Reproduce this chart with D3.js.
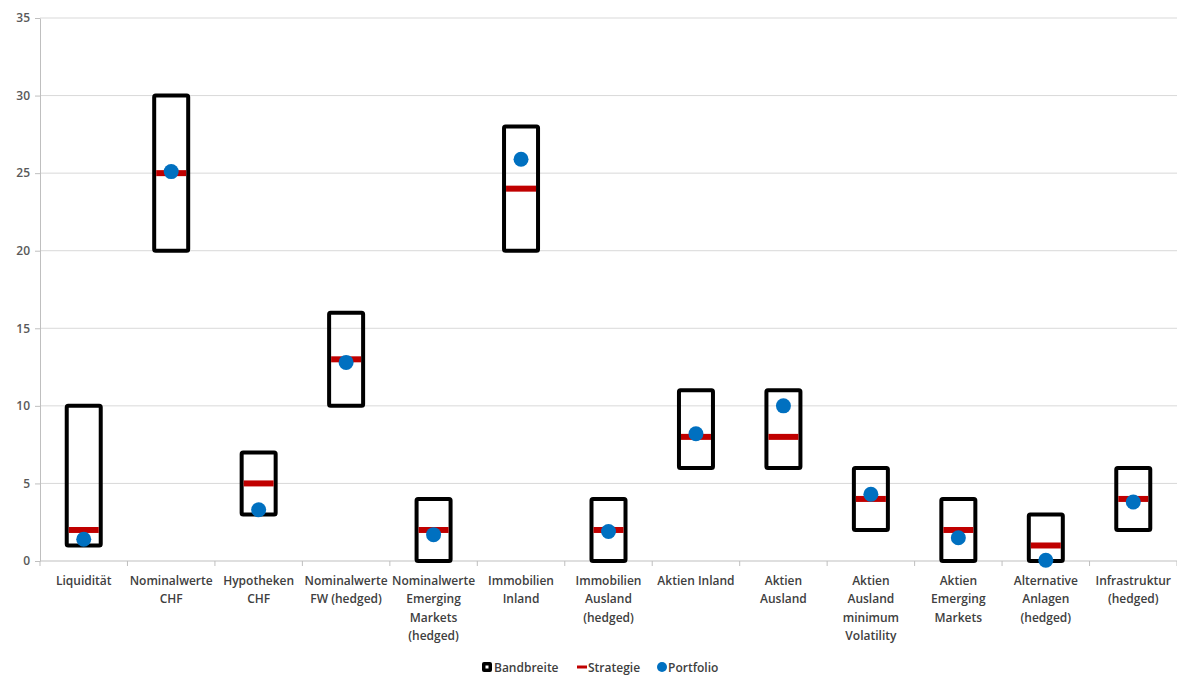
<!DOCTYPE html>
<html lang="de">
<head>
<meta charset="UTF-8">
<title>Bandbreiten</title>
<script src="https://d3js.org/d3.v7.min.js"></script>
<style>
  body { margin: 0; background: #fff; }
  svg text { font-family: "Open Sans", "Noto Sans", sans-serif; }
</style>
</head>
<body>
<div id="chart"></div>
<script>
// categories (lines split with \n)
const categories = [
  "Liquidität", "Nominalwerte\nCHF", "Hypotheken\nCHF", "Nominalwerte\nFW (hedged)",
  "Nominalwerte\nEmerging\nMarkets\n(hedged)", "Immobilien\nInland", "Immobilien\nAusland\n(hedged)",
  "Aktien Inland", "Aktien\nAusland", "Aktien\nAusland\nminimum\nVolatility",
  "Aktien\nEmerging\nMarkets", "Alternative\nAnlagen\n(hedged)", "Infrastruktur\n(hedged)"
];
const bandMin   = [1, 20, 3, 10, 0, 20, 0, 6, 6, 2, 0, 0, 2];
const bandMax   = [10, 30, 7, 16, 4, 28, 4, 11, 11, 6, 4, 3, 6];
const strategie = [2, 25, 5, 13, 2, 24, 2, 8, 8, 4, 2, 1, 4];
const portfolio = [1.4, 25.1, 3.3, 12.8, 1.7, 25.9, 1.9, 8.2, 10.0, 4.3, 1.5, 0.05, 3.8];
const yTicks = [0, 5, 10, 15, 20, 25, 30, 35];

const W = 1177, H = 675;
const margin = { top: 18, right: 0, bottom: 114, left: 40 };

const svg = d3.select("#chart").append("svg")
  .attr("width", W).attr("height", H);

const x = d3.scaleBand()
  .domain(categories.map((d, i) => i))
  .range([margin.left, W - margin.right]);

const y = d3.scaleLinear()
  .domain([0, 35])
  .range([H - margin.bottom, margin.top]);

// gridlines
svg.append("g")
  .selectAll("line")
  .data(yTicks.filter(d => d > 0))
  .join("line")
  .attr("x1", margin.left).attr("x2", W - margin.right)
  .attr("y1", d => y(d)).attr("y2", d => y(d))
  .attr("stroke", "#d9d9d9").attr("stroke-width", 1);

// y axis
const yAxis = svg.append("g")
  .attr("transform", `translate(${margin.left},0)`)
  .call(d3.axisLeft(y).tickValues(yTicks).tickSize(5).tickSizeOuter(0));
yAxis.select(".domain").attr("stroke", "#bfbfbf");
yAxis.selectAll(".tick line").attr("stroke", "#bfbfbf");
yAxis.selectAll(".tick text")
  .attr("x", -10)
  .attr("fill", "#595959")
  .style("font-size", "12px")
  .style("font-weight", "600");

// x axis line and ticks at category boundaries
svg.append("line")
  .attr("x1", margin.left).attr("x2", W - margin.right)
  .attr("y1", y(0)).attr("y2", y(0))
  .attr("stroke", "#bfbfbf");
svg.append("g")
  .selectAll("line")
  .data(d3.range(categories.length + 1))
  .join("line")
  .attr("x1", i => margin.left + i * x.step())
  .attr("x2", i => margin.left + i * x.step())
  .attr("y1", y(0)).attr("y2", y(0) + 5)
  .attr("stroke", "#bfbfbf");

// category labels
const labels = svg.append("g")
  .selectAll("text")
  .data(categories)
  .join("text")
  .attr("text-anchor", "middle")
  .attr("fill", "#404040")
  .style("font-size", "12px")
  .style("font-weight", "600");
labels.each(function(d, i) {
  const t = d3.select(this);
  d.split("\n").forEach((line, k) => {
    t.append("tspan")
      .attr("x", x(i) + x.bandwidth() / 2)
      .attr("y", y(0) + 24 + k * 18.3)
      .text(line);
  });
});

const boxW = 34;
const cx = i => x(i) + x.bandwidth() / 2;

// Bandbreite boxes
svg.append("g")
  .selectAll("rect")
  .data(categories.map((d, i) => i))
  .join("rect")
  .attr("x", i => cx(i) - boxW / 2)
  .attr("width", boxW)
  .attr("y", i => y(bandMax[i]))
  .attr("height", i => y(bandMin[i]) - y(bandMax[i]))
  .attr("fill", "none")
  .attr("stroke", "#000")
  .attr("stroke-width", 4)
  .attr("rx", 1.5);

// Strategie
svg.append("g")
  .selectAll("line")
  .data(categories.map((d, i) => i))
  .join("line")
  .attr("x1", i => cx(i) - boxW / 2 + 2)
  .attr("x2", i => cx(i) + boxW / 2 - 2)
  .attr("y1", i => y(strategie[i]))
  .attr("y2", i => y(strategie[i]))
  .attr("stroke", "#c00000")
  .attr("stroke-width", 6);

// Portfolio
svg.append("g")
  .selectAll("circle")
  .data(categories.map((d, i) => i))
  .join("circle")
  .attr("cx", i => cx(i))
  .attr("cy", i => y(portfolio[i]))
  .attr("r", 7.5)
  .attr("fill", "#0070c0");

// legend
const lg = svg.append("g").attr("transform", "translate(0,667)");
lg.append("rect")
  .attr("x", 482).attr("y", -5).attr("width", 10).attr("height", 10)
  .attr("rx", 2).attr("fill", "#000");
lg.append("rect")
  .attr("x", 485.5).attr("y", -1.5).attr("width", 3).attr("height", 3)
  .attr("fill", "#fff");
lg.append("text").attr("x", 494).attr("y", 4.5).text("Bandbreite");
lg.append("line")
  .attr("x1", 577).attr("x2", 587).attr("y1", 0).attr("y2", 0)
  .attr("stroke", "#c00000").attr("stroke-width", 3);
lg.append("text").attr("x", 588).attr("y", 4.5).text("Strategie");
lg.append("circle").attr("cx", 662).attr("cy", 0).attr("r", 5).attr("fill", "#0070c0");
lg.append("text").attr("x", 668).attr("y", 4.5).text("Portfolio");
lg.selectAll("text")
  .attr("fill", "#404040")
  .style("font-size", "12px")
  .style("font-weight", "600");
</script>
</body>
</html>
